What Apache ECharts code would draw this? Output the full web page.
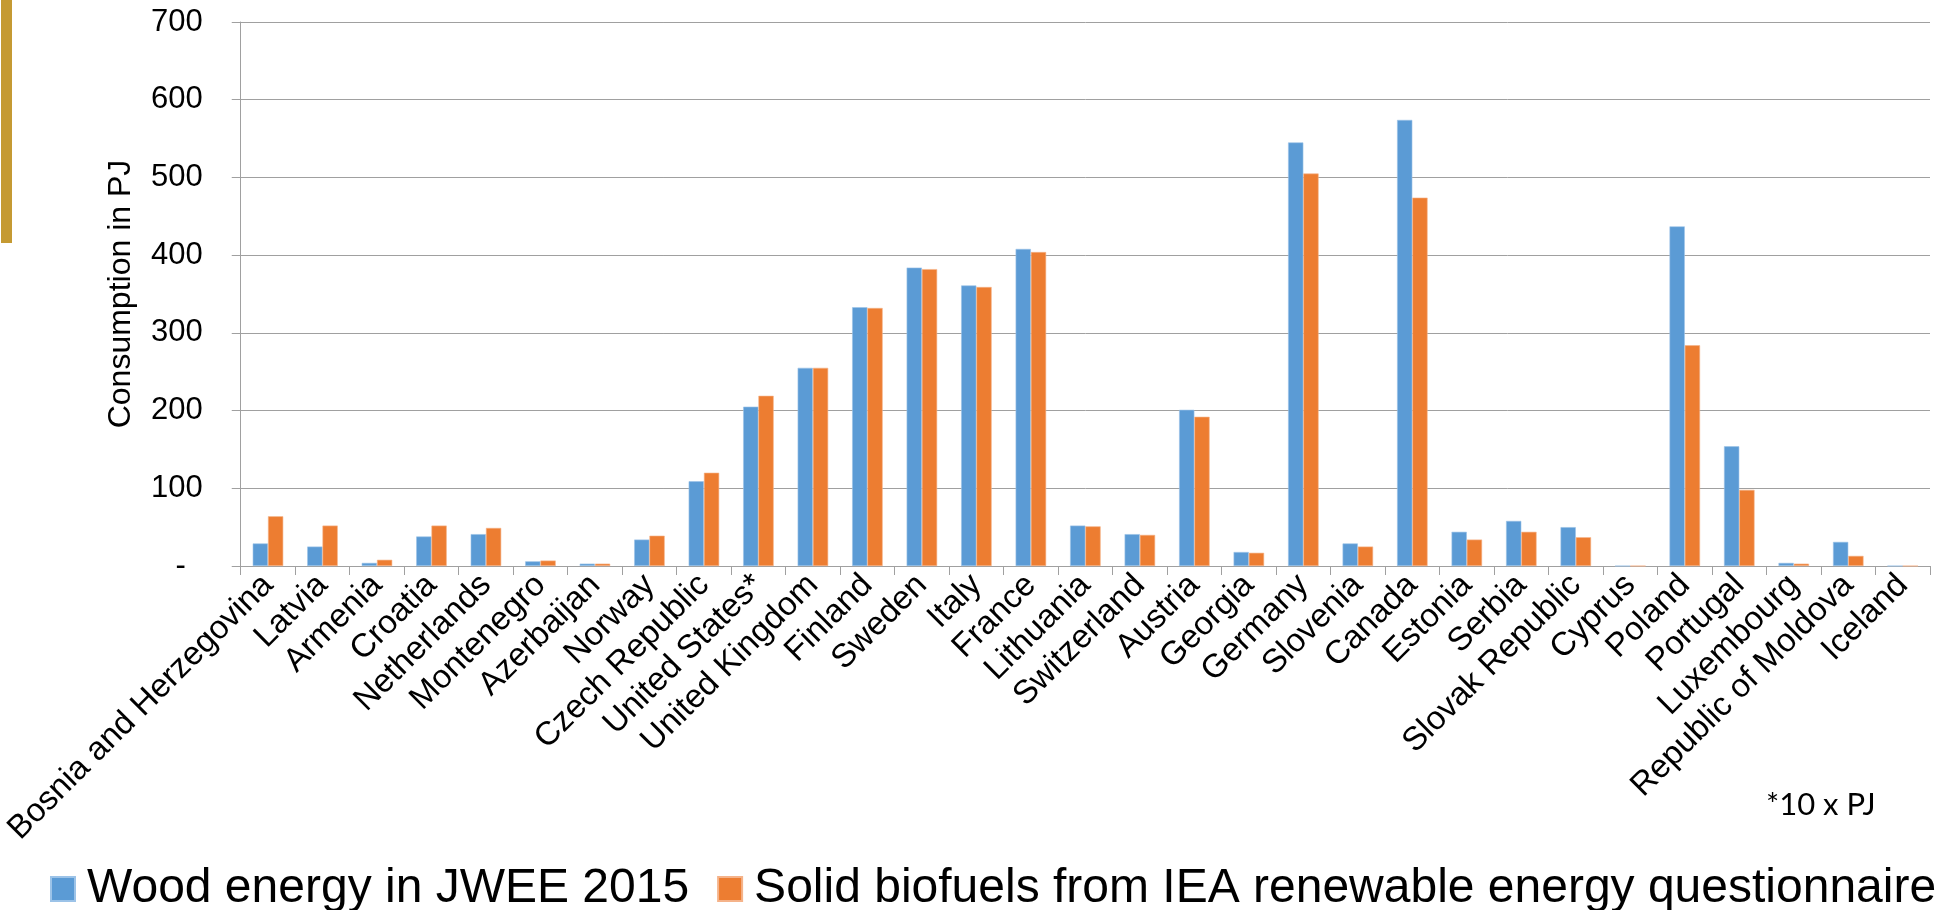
<!DOCTYPE html>
<html>
<head>
<meta charset="utf-8">
<script src="https://cdn.jsdelivr.net/npm/echarts@6/dist/echarts.min.js"></script>
<style>
html,body{margin:0;padding:0;background:#fff;}
#chart{width:1955px;height:910px;}
</style>
</head>
<body>
<div id="chart"></div>
<script>
const categories = ['Bosnia and Herzegovina','Latvia','Armenia','Croatia','Netherlands','Montenegro','Azerbaijan','Norway','Czech Republic','United States*','United Kingdom','Finland','Sweden','Italy','France','Lithuania','Switzerland','Austria','Georgia','Germany','Slovenia','Canada','Estonia','Serbia','Slovak Republic','Cyprus','Poland','Portugal','Luxembourg','Republic of Moldova','Iceland'];
const woodEnergy = [29, 25, 4, 38, 41, 6, 3, 34, 109, 205, 255, 333, 384, 361, 408, 52, 41, 201, 18, 545, 29, 574, 44, 58, 50, 0, 437, 154, 4, 31, 0];
const solidBiofuels = [64, 52, 8, 52, 49, 7, 3, 39, 120, 219, 255, 332, 382, 359, 404, 51, 40, 192, 17, 505, 25, 474, 34, 44, 37, 0, 284, 98, 3, 13, 0];
const seriesNames = ['Wood energy in JWEE 2015', 'Solid biofuels from IEA renewable energy questionnaire'];
const yAxisName = 'Consumption in PJ';
const footnote = '*10 x PJ';

const FONT = '"Liberation Sans", Arial, sans-serif';
const chart = echarts.init(document.getElementById('chart'), null, {renderer: 'canvas'});
chart.setOption({
  animation: false,
  backgroundColor: '#ffffff',
  grid: {left: 237, right: 25, top: 22, bottom: 344, containLabel: false},
  legend: {
    data: seriesNames,
    left: 45, top: 860,
    icon: 'rect', itemWidth: 24, itemHeight: 24, itemGap: 28,
    textStyle: {fontFamily: FONT, fontSize: 48, color: '#000', padding: [0, 0, 0, 7], lineHeight: 48}
  },
  xAxis: {
    type: 'category',
    data: categories,
    axisLine: {lineStyle: {color: '#a0a0a0', width: 1}},
    axisTick: {show: true, length: 9, lineStyle: {color: '#a0a0a0'}},
    axisLabel: {rotate: 45, interval: 0, fontFamily: FONT, fontSize: 33, color: '#000', margin: 14}
  },
  yAxis: {
    type: 'value', min: 0, max: 700, interval: 100,
    name: yAxisName, nameLocation: 'middle', nameGap: 104,
    nameTextStyle: {fontFamily: FONT, fontSize: 32, color: '#000'},
    axisLine: {show: true, lineStyle: {color: '#a0a0a0'}},
    axisTick: {show: true, length: 9, lineStyle: {color: '#a0a0a0'}},
    splitLine: {lineStyle: {color: '#a0a0a0', width: 1}},
    axisLabel: {
      fontFamily: FONT, fontSize: 31, color: '#000', margin: 38,
      formatter: v => v === 0 ? '{d|-}' : String(v),
      rich: {d: {fontFamily: FONT, fontSize: 31, color: '#000', padding: [0, 17, 0, 0]}}
    }
  },
  series: [
    {name: seriesNames[0], type: 'bar', data: woodEnergy, barGap: '0%', barCategoryGap: '44%',
     itemStyle: {color: '#5B9BD5', borderColor: '#9cc3e8', borderWidth: 0.6}},
    {name: seriesNames[1], type: 'bar', data: solidBiofuels, barGap: '0%', barCategoryGap: '44%',
     itemStyle: {color: '#ED7D31', borderColor: '#f5b38a', borderWidth: 0.6}}
  ],
  graphic: [
    {type: 'rect', left: 1, top: 0, shape: {width: 11, height: 243}, style: {fill: '#C59A32'}},
    {type: 'text', left: 1766, top: 789, style: {text: footnote, font: '31px Lato, "Open Sans", sans-serif', fill: '#000'}}
  ]
});
</script>
</body>
</html>
